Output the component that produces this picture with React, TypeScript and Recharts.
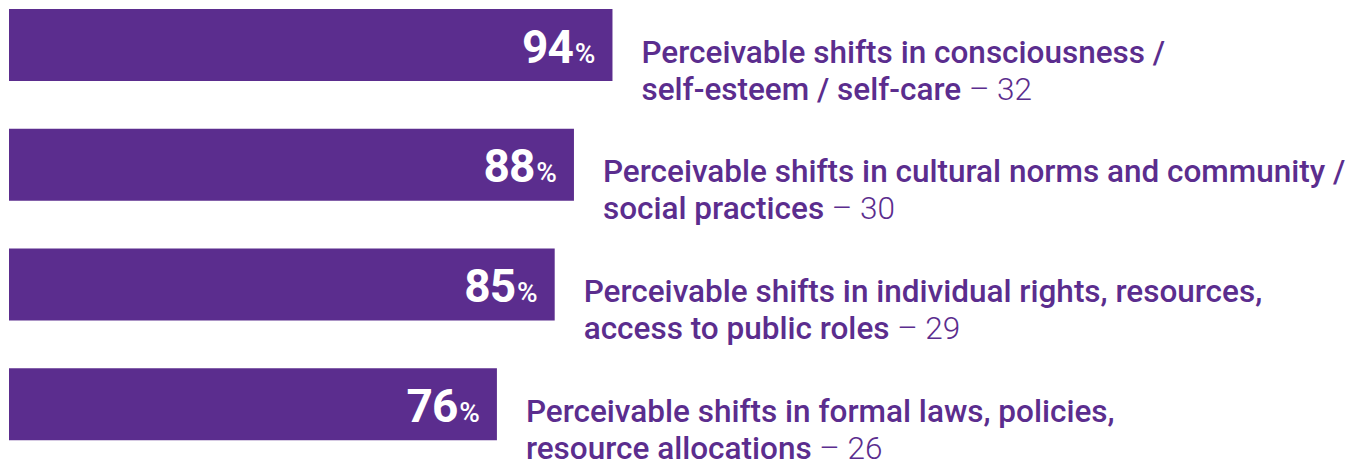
import React from "react";
import { BarChart, Bar, XAxis, YAxis, LabelList } from "recharts";

const categories = [
  "Perceivable shifts in consciousness / self-esteem / self-care",
  "Perceivable shifts in cultural norms and community / social practices",
  "Perceivable shifts in individual rights, resources, access to public roles",
  "Perceivable shifts in formal laws, policies, resource allocations",
];
const line1 = [
  "Perceivable shifts in consciousness /",
  "Perceivable shifts in cultural norms and community /",
  "Perceivable shifts in individual rights, resources,",
  "Perceivable shifts in formal laws, policies,",
];
const line2 = [
  "self-esteem / self-care",
  "social practices",
  "access to public roles",
  "resource allocations",
];
const percents = [94, 88, 85, 76];
const counts = [32, 30, 29, 26];

const data = categories.map((c, i) => ({
  name: c,
  value: percents[i],
  l1: line1[i],
  l2: line2[i],
  count: counts[i],
}));

const PURPLE = "#5B2D8E";
const FONT = "Roboto, 'DejaVu Sans', sans-serif";

const renderLabel = (props: any) => {
  const { x, y, width, height, index } = props;
  const d = data[index];
  const cy = y + height / 2;
  const endX = x + width;
  const tx = endX + 29;
  return (
    <g>
      <text
        x={endX - 17}
        y={cy + 17.5}
        textAnchor="end"
        fill="#ffffff"
        style={{ fontFamily: FONT }}
      >
        <tspan fontSize={46} fontWeight={700} letterSpacing={-1}>{d.value}</tspan>
        <tspan fontSize={28} fontWeight={500} dx={2}>%</tspan>
      </text>
      <text
        x={tx}
        y={cy + 17.5}
        fill={PURPLE}
        fontSize={31.5}
        fontWeight={500}
        style={{ fontFamily: FONT }}
      >
        {d.l1}
      </text>
      <text x={tx} y={cy + 54.5} fill={PURPLE} fontSize={31.5} style={{ fontFamily: FONT }}>
        <tspan fontWeight={500}>{d.l2}</tspan>
        <tspan fontWeight={300}>{" – " + d.count}</tspan>
      </text>
    </g>
  );
};

export default function App() {
  return (
    <BarChart
      width={1356}
      height={459}
      data={data}
      layout="vertical"
      margin={{ top: -23, right: 713, bottom: 3, left: 1 }}
      barSize={72}
    >
      <XAxis type="number" domain={[0, 100]} hide />
      <YAxis type="category" dataKey="name" hide />
      <Bar dataKey="value" fill={PURPLE} isAnimationActive={false}>
        <LabelList dataKey="value" content={renderLabel} />
      </Bar>
    </BarChart>
  );
}
